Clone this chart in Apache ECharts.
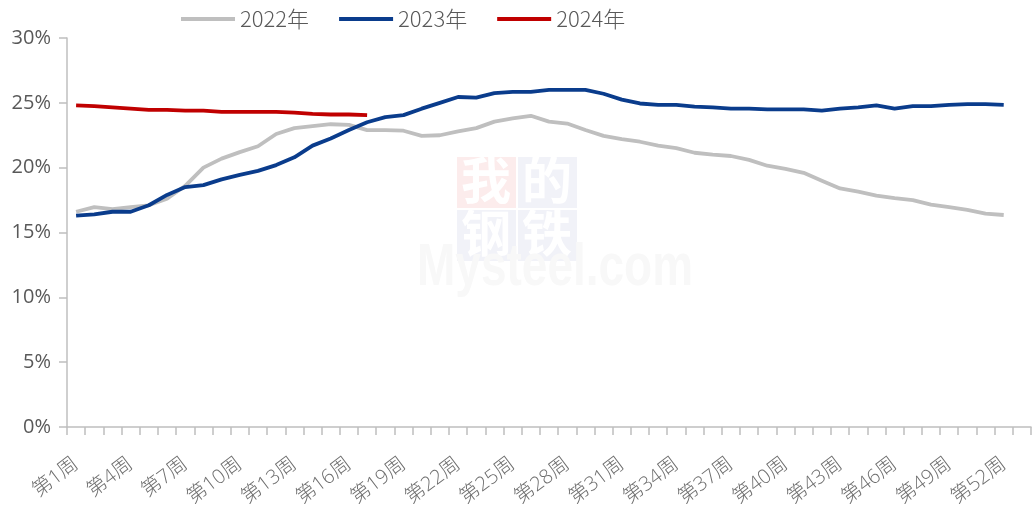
<!DOCTYPE html>
<html>
<head>
<meta charset="utf-8">
<script src="https://cdn.jsdelivr.net/npm/echarts@6/dist/echarts.min.js"></script>
<style>
  html, body { margin: 0; padding: 0; background: #fff; }
  #chart { width: 1035px; height: 506px; }
</style>
</head>
<body>
<div id="chart"></div>
<script>
// 周次（53格，数据到第52周）
const weeks = []
for (let i = 1; i <= 53; i++) weeks.push("第" + i + "周")

const data2022 = [16.6, 16.95, 16.8, 16.95, 17.1, 17.6, 18.6, 20.0, 20.7, 21.2,
  21.65, 22.6, 23.05, 23.2, 23.35, 23.3, 22.9, 22.9, 22.85, 22.45,
  22.5, 22.8, 23.05, 23.55, 23.8, 24.0, 23.55, 23.4, 22.9, 22.45,
  22.2, 22.0, 21.7, 21.5, 21.15, 21.0, 20.9, 20.6, 20.15, 19.9,
  19.6, 19.0, 18.4, 18.15, 17.85, 17.65, 17.5, 17.15, 16.95, 16.75,
  16.45, 16.35]

const data2023 = [16.3, 16.4, 16.6, 16.6, 17.1, 17.9, 18.5, 18.65, 19.1, 19.45,
  19.75, 20.2, 20.8, 21.7, 22.25, 22.9, 23.5, 23.9, 24.05, 24.55,
  25.0, 25.45, 25.4, 25.75, 25.85, 25.85, 26.0, 26.0, 26.0, 25.7,
  25.25, 24.95, 24.85, 24.85, 24.7, 24.65, 24.55, 24.55, 24.5, 24.5,
  24.5, 24.4, 24.55, 24.65, 24.8, 24.55, 24.75, 24.75, 24.85, 24.9,
  24.9, 24.85]

const data2024 = [24.8, 24.75, 24.65, 24.55, 24.45, 24.45, 24.4, 24.4, 24.3, 24.3,
  24.3, 24.3, 24.25, 24.15, 24.1, 24.1, 24.05]

const yTicks = [0, 5, 10, 15, 20, 25, 30]

const labelColor = "#595959"
const axisColor = "#BFBFBF"
const cjkFont = "'Noto Sans CJK SC'"

const chart = echarts.init(document.getElementById("chart"))

function lineSeries(name, values, color) {
  return {
    name: name,
    type: "line",
    data: values,
    symbol: "none",
    lineStyle: { color: color, width: 3.8 },
    itemStyle: { color: color }
  }
}

// 水印
function wmChar(ch, x, y) {
  return { type: "text", x: x, y: y, style: { text: ch, fill: "#fff", font: "bold 50px " + cjkFont } }
}

chart.setOption({
  animation: false,
  backgroundColor: "#fff",
  legend: {
    top: 3,
    left: 176,
    itemGap: 30,
    itemWidth: 54,
    itemHeight: 4,
    icon: "rect",
    textStyle: {
      color: labelColor,
      fontSize: 22,
      fontFamily: "Noto Sans CJK SC",
      fontWeight: 300
    },
    data: ["2022年", "2023年", "2024年"]
  },
  grid: {
    left: 67,
    right: 4,
    top: 38,
    bottom: 79,
    containLabel: false,
    outerBoundsMode: "none"
  },
  xAxis: {
    type: "category",
    data: weeks,
    boundaryGap: true,
    axisLine: { lineStyle: { color: axisColor, width: 1.5 } },
    axisTick: { show: true, interval: 0, length: 8, lineStyle: { color: axisColor, width: 1.5 } },
    axisLabel: {
      interval: 2,
      rotate: 37,
      margin: 35,
      color: "#6E6E6E",
      fontSize: 20,
      fontFamily: "'Open Sans', 'Noto Sans CJK SC'",
      fontWeight: 300
    },
    splitLine: { show: false }
  },
  yAxis: {
    type: "value",
    min: yTicks[0],
    max: yTicks[yTicks.length - 1],
    interval: 5,
    axisLine: { show: true, lineStyle: { color: axisColor, width: 1.5 } },
    axisTick: { show: true, length: 8, lineStyle: { color: axisColor, width: 1.5 } },
    axisLabel: {
      formatter: "{value}%",
      margin: 16,
      color: labelColor,
      fontSize: 20,
      fontFamily: "Open Sans"
    },
    splitLine: { show: false }
  },
  graphic: [
    {
      type: "group",
      left: 417,
      top: 155,
      silent: true,
      z: -1,
      children: [
        { type: "rect", shape: { x: 40, y: 0, width: 59, height: 51 }, style: { fill: "#FCECEC" } },
        { type: "rect", shape: { x: 101, y: 0, width: 59, height: 51 }, style: { fill: "#F1F2F8" } },
        { type: "rect", shape: { x: 40, y: 53, width: 59, height: 51 }, style: { fill: "#F1F2F8" } },
        { type: "rect", shape: { x: 101, y: 53, width: 59, height: 51 }, style: { fill: "#F1F2F8" } },
        wmChar("我", 44, -2),
        wmChar("的", 105, -2),
        wmChar("钢", 44, 51),
        wmChar("铁", 105, 51),
        {
          type: "text", x: 0, y: 82, scaleY: 1.3,
          style: { text: "Mysteel.com", fill: "#F8F8F8", font: "bold 46px 'Liberation Sans'" }
        }
      ]
    }
  ],
  series: [
    lineSeries("2022年", data2022, "#BFBFBF"),
    lineSeries("2023年", data2023, "#0A3C8C"),
    lineSeries("2024年", data2024, "#C00000")
  ]
})
</script>
</body>
</html>
